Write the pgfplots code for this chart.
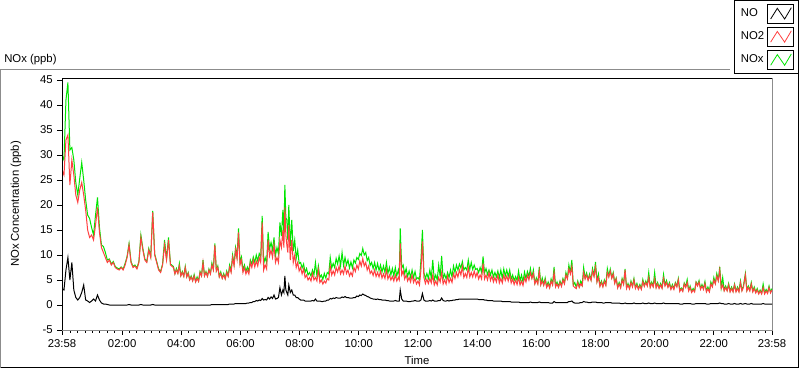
\documentclass[border=0pt]{standalone}
\usepackage{fontspec}
\setmainfont{Liberation Sans}
\usepackage{pgfplots}
\usepackage{pgfplotstable}
\pgfplotsset{compat=1.18}
\definecolor{noxgreen}{RGB}{0,230,0}
\definecolor{notwored}{RGB}{255,64,64}
\definecolor{framegray}{RGB}{140,140,140}

\pgfplotstableread{
t NO NO2 NOx
0 3.3 27 30
4 3 26 29
8 7 33 41
12 9.5 34 44.5
16 5 24 31
20 8.5 29 31.5
24 3 26 29
28 1.5 22 24.5
32 1 20.5 22
36 1.5 23 25.3
40 2.5 24.5 28.5
44 4 22 25
48 1 19 21
52 0.8 15 18
56 0.5 13.5 17.3
60 0.8 14 15.5
64 1.2 13 14
68 0.8 16 18
72 2 19.5 21.5
76 1 14.5 15.5
80 0.4 11.5 12
84 0.2 10.5 11.7
88 0.2 9.5 10.5
92 0.1 8.5 9
96 0 9 9.2
100 0 8 8.2
104 0 8.5 8.7
108 0 7.5 7.7
112 0 7.2 7.4
116 0 7 7.2
120 0 7.5 7.6
124 0 7 7.2
128 0 8 8.3
132 0 9.5 9.7
136 0.1 12 12.3
140 0 8.5 8.7
144 0 7.5 7.7
148 0 7.8 8
152 0 7.2 7.4
156 0 8.5 8.7
160 0.1 13.5 14
164 0 11 11.3
168 0 9 9.2
172 0 8.5 8.7
176 0 11 11.3
180 0 9.5 9.7
184 0.1 18.5 18.8
188 0 10 10.2
192 0 8.5 8.7
196 0 7 7.2
200 0 6.5 6.7
204 0 8 8.2
208 0 12 13
212 0 9 9.2
216 0 13 13.5
220 0 8 8.2
226 0 7.5 7.7
229 0 6.2 6.3
232 0 7 7.3
235 0 6.3 6.4
238 0 7.8 8.3
241 0 5.8 5.9
244 0 6.5 6.7
247 0 5.7 5.8
250 0 7.5 7.7
253 0 5.6 5.7
256 0 6.3 6.5
259 0 5 5.1
262 0 5.6 5.8
265 0 4.8 4.9
268 0 5.8 6.1
271 0 4.6 4.7
274 0 5.3 5.6
277 0 4.7 4.8
280 0 6.5 6.7
283 0 5.8 5.9
286 0 8.5 9
289 0 5.8 5.9
292 0 6.5 6.7
295 0 5.7 5.8
298 0 7 7.2
301 0 6.2 6.3
304 0.1 8 8.4
307 0.1 7 7.2
310 0.1 12 12.3
313 0.1 6.8 6.9
316 0.1 7.5 7.8
319 0.1 5.6 5.7
322 0.1 6.3 6.6
325 0.1 5.3 5.4
328 0.1 6 6.3
331 0.1 5.2 5.3
334 0.1 6.5 6.8
337 0.1 5.7 5.9
340 0.2 7.5 8
343 0.2 6.5 6.9
346 0.2 9.5 10
349 0.2 7.8 8.2
352 0.3 11 11.5
355 0.3 9.2 9.7
358 0.3 14.5 15.3
361 0.3 8 8.5
364 0.3 9 9.6
367 0.3 6.5 7
370 0.3 7.5 8
373 0.3 6.2 6.7
376 0.4 7 7.6
379 0.4 6.2 6.8
382 0.5 8.5 9
385 0.5 7.5 8.2
388 0.7 9 9.6
391 0.7 7.6 8.5
394 0.9 8.8 10
397 0.8 7.8 8.8
400 1 9.5 10.3
403 0.9 8.5 9.6
406 1.3 16.5 17.8
409 1 7 8.2
412 1.1 8 9.5
415 1 7.2 8.4
418 1.5 13 14.6
421 1.2 9.8 11.2
424 1.6 11 12.5
427 1.3 9.5 11
430 2 12 13.5
433 1.2 8.5 9.9
436 1.3 9.5 11.5
439 1.5 8.5 10.2
442 3.5 13 16.5
445 2 11.5 13.8
448 3 15 19
450 2.5 11.5 14.2
452 5.8 19.5 24
454 3 14 17.5
456 2.5 12 17
458 2 10.5 13
460 4 16 20
463 2.5 9 11.8
466 3 13 17
469 2 8.5 10.8
472 2 10 13
475 1.5 7.5 9.3
478 1.5 8.5 11
481 1.2 6.8 8.3
484 1 7.5 8.5
487 1 6.2 7.4
490 1 7.2 8.2
493 0.8 5.5 6.5
496 0.8 6 7.3
499 0.8 5 6
502 0.8 5.5 6.5
505 0.8 4.8 5.8
508 0.9 6.3 7
511 0.8 5 6
514 1.2 5.5 8.5
517 0.8 4.8 5.8
520 0.8 7 7.8
523 0.8 4.5 5.5
526 0.7 5 6
529 0.7 4.2 5.1
532 0.8 4.8 6.3
535 0.8 4.4 5.4
538 1 5.3 6.5
541 1 5 6.2
544 1.3 7.8 9.5
547 1.2 6 7.4
550 1.4 6.8 8.3
553 1.3 6 7.5
556 1.5 7.5 9.3
559 1.4 6.6 8.2
562 1.4 7.8 9.8
565 1.4 6.2 7.8
568 1.6 7 10.5
571 1.5 6.2 7.9
574 1.7 7.8 9.5
577 1.5 6.3 8
580 1.5 7 9
583 1.4 5.8 7.4
586 1.4 6.5 8.6
589 1.4 5.8 7.4
592 1.5 7.5 9
595 1.5 6.7 8.4
598 1.8 8 9.5
601 1.7 7.2 9.1
604 2 8.8 10.3
607 1.9 7.8 9.9
610 2.2 9.3 11.3
613 2 7.8 10
616 1.9 8.5 10.5
619 1.7 7 8.9
622 1.6 7.8 9.5
625 1.4 6.3 7.9
628 1.3 6.8 8.5
631 1.2 5.9 7.3
634 1.2 7 8.5
637 1.1 5.7 7
640 1.2 6.5 8.3
643 1.1 5.6 6.9
646 1.1 6.8 8
649 1 5.4 6.6
652 1 6.2 7.8
655 1 5.3 6.5
658 0.9 7 8.5
661 0.9 5.2 6.3
664 0.8 6 7.5
667 0.8 5 6
670 0.8 5.7 7.3
673 0.8 4.8 5.8
676 0.9 6 7.5
679 0.8 4.8 5.8
682 0.8 5.5 7
684 0.8 5 6
686 3 12.3 15.3
689 1.2 6 7.4
692 0.8 6.8 8
695 0.8 5.2 6.2
698 0.8 6 7.3
701 0.7 4.8 5.7
704 0.7 5.5 6.8
707 0.7 4.6 5.5
710 0.8 6 7
713 0.8 4.5 5.5
716 0.9 5.3 6.7
719 0.8 4.2 5.2
722 0.8 4.8 5.5
725 0.8 4 5
728 1 7 9
731 2.3 12.7 15
734 1 5.5 6.5
737 0.8 4.3 5.3
740 0.8 5.2 6.3
743 0.8 4.3 5.3
746 0.9 5.3 7
749 0.8 4.4 5.4
752 1 6 9
755 0.8 4 5
758 0.8 4.8 6
761 0.8 4 5
764 0.9 5.5 8
767 0.9 4.6 5.7
770 1.4 6.5 9.8
773 0.9 4.2 5.3
776 0.8 5 6.2
779 0.8 4.2 5.2
782 0.9 5.8 6.5
785 0.8 4.5 5.5
788 0.9 5.3 7
791 0.9 4.5 5.6
794 1 6.3 7.8
797 1 5.3 6.5
800 1.1 6.5 8
803 1.1 5.6 7
806 1.2 7 8.2
809 1.2 6 7.4
812 1.2 7.7 8.7
815 1.2 5.5 7
818 1.2 6.3 7.5
821 1.2 5.5 7
824 1.2 7.5 9
827 1.2 5.6 7.1
830 1.2 6.5 8.5
833 1.2 5.6 7.1
836 1.2 6.8 8
839 1.2 5.6 7.1
842 1.2 6.5 7.3
845 1.1 5.2 6.5
848 1.1 6 7.5
851 1.1 5.2 6.5
854 1.1 8.3 9.7
857 1 5.2 6.4
860 1 6 7.3
863 0.9 5 6.1
866 0.9 6.5 7
869 0.9 4.9 6
872 0.9 5.8 7
875 0.8 4.6 5.6
878 0.8 5.5 6.5
881 0.8 4.6 5.6
884 0.8 6 6.8
887 0.8 4.4 5.4
890 0.8 5.3 7
893 0.7 4.4 5.3
896 0.7 6 7.2
899 0.7 4.9 5.8
902 0.7 5.8 7
905 0.7 4.8 5.7
908 0.7 6 7
911 0.6 4.4 5.2
914 0.6 5.2 6
917 0.6 4.1 4.9
920 0.6 5 5.7
923 0.6 4.1 4.9
926 0.6 5.5 6.8
929 0.5 4 4.8
932 0.5 4.8 6
935 0.5 3.9 4.6
938 0.5 5.5 6.6
941 0.5 4.6 5.3
944 0.5 6 6.7
947 0.5 5 5.7
950 0.6 6.5 7.3
953 0.5 5.3 5.5
956 0.5 6.3 7.0
959 0.5 4.2 4.4
962 0.5 5 5.4
965 0.5 4.2 4.4
968 0.6 6.8 7.6
971 0.5 4 4.2
974 0.5 4.8 5.4
977 0.5 3.9 4.1
980 0.5 5 5.4
983 0.5 3.5 3.7
986 0.5 4.2 4.6
989 0.4 3.4 3.6
992 0.4 4.8 5.2
995 0.4 4 4.2
998 0.7 6.5 7.6
1001 0.5 3.6 3.8
1004 0.5 4.2 4.6
1007 0.5 3.5 3.7
1010 0.5 4.5 4.8
1013 0.5 3.7 3.9
1016 0.5 5 5.3
1019 0.5 4.2 4.4
1022 0.5 6 6.5
1025 0.5 5.2 5.4
1028 0.7 7.2 8
1031 0.7 6.2 6.5
1034 0.8 7.7 9
1037 0.5 3.8 4
1040 0.4 3.5 4.5
1043 0.4 3.3 3.5
1046 0.4 4.5 4.8
1049 0.4 3.5 3.7
1052 0.5 4.2 4.8
1055 0.5 3.8 4
1058 0.7 6.5 7.5
1061 0.6 5.2 5.4
1064 0.6 6 6.4
1067 0.5 4.9 5.1
1070 0.5 5.8 6.2
1073 0.5 4.9 5.1
1076 0.6 6.8 7.3
1079 0.6 5.7 5.9
1082 0.6 7.5 8.6
1085 0.5 4.6 4.8
1088 0.5 5.5 6.2
1091 0.5 3.7 3.9
1094 0.5 4.5 4.8
1097 0.4 3.6 3.8
1100 0.4 4.7 5
1103 0.5 3.9 4.1
1106 0.5 6.5 7.3
1109 0.5 5.6 5.8
1112 0.5 6.8 7.2
1115 0.4 5.3 5.5
1118 0.4 6.2 6.5
1121 0.4 4.3 4.5
1124 0.4 5.2 5.4
1127 0.4 3.4 3.6
1130 0.4 4.2 4.5
1133 0.3 3.4 3.6
1136 0.3 5 5.3
1139 0.3 4.1 4.3
1142 0.4 7 7.2
1145 0.3 3.3 3.5
1148 0.3 4 4.3
1151 0.3 3.2 3.4
1154 0.3 4.5 4.8
1157 0.3 3.6 3.8
1160 0.4 5 5.3
1163 0.3 3.3 3.5
1166 0.3 4 4.3
1169 0.3 3.1 3.3
1172 0.3 3.8 4.1
1175 0.3 3.1 3.3
1178 0.4 4.7 5.1
1181 0.3 3.7 3.9
1184 0.3 4.5 4.8
1187 0.3 3.8 4
1190 0.4 5.5 6.5
1193 0.3 3.5 3.7
1196 0.3 4.3 4.6
1199 0.3 3.6 3.8
1202 0.4 5.2 6.5
1205 0.3 3.4 3.6
1208 0.3 4.2 4.5
1211 0.3 3.3 3.5
1214 0.3 4 4.3
1217 0.3 3.3 3.5
1220 0.4 5.3 6.1
1223 0.3 3.8 4
1226 0.3 4.5 4.9
1229 0.3 3.5 3.7
1232 0.3 4.2 4.5
1235 0.3 3.1 3.3
1238 0.3 3.8 4.1
1241 0.3 3.1 3.3
1244 0.3 4.3 4.5
1247 0.3 3.6 3.8
1250 0.3 5 5.3
1253 0.2 2.7 2.9
1256 0.2 3.2 3.4
1259 0.2 2.7 2.9
1262 0.3 4.2 4.4
1265 0.3 3.5 3.7
1268 0.3 4.5 5.1
1271 0.3 2.8 3
1274 0.3 3.5 3.8
1277 0.2 2.5 2.7
1280 0.2 3 3.3
1283 0.2 2.6 2.8
1286 0.3 4.5 4.6
1289 0.3 3.8 4
1292 0.3 4.6 4.9
1295 0.3 3.1 3.3
1298 0.3 3.8 4.1
1301 0.3 3.1 3.3
1304 0.3 4.3 4.7
1307 0.2 2.6 2.8
1310 0.2 3.2 3.6
1313 0.2 2.6 2.8
1316 0.3 4.2 4.6
1319 0.3 3.6 3.8
1322 0.3 5 5.5
1325 0.3 4.2 4.4
1328 0.3 5.8 6.3
1331 0.3 4.8 5
1334 0.4 7 7.6
1337 0.3 3.3 3.5
1340 0.3 4 5.5
1343 0.2 2.8 3
1346 0.2 3.5 3.8
1349 0.2 2.8 3
1352 0.3 4 4.3
1355 0.2 2.6 2.8
1358 0.2 3.3 3.6
1361 0.2 2.6 2.8
1364 0.3 4 4.2
1367 0.2 2.6 2.8
1370 0.2 3.3 3.6
1373 0.2 2.6 2.8
1376 0.3 4.5 4.8
1379 0.2 2.8 3
1382 0.2 3.5 3.8
1386 0.3 6 6.3
1389 0.2 2.8 3
1392 0.2 3.5 3.8
1395 0.2 2.8 3
1398 0.3 4.2 4.5
1401 0.2 2.6 2.8
1404 0.2 3.3 3.6
1407 0.2 2.4 2.6
1410 0.2 3 3.3
1413 0.2 2.2 2.4
1416 0.2 2.8 3
1419 0.2 2.2 2.4
1422 0.3 3.5 4.2
1425 0.2 2.2 2.4
1428 0.2 2.8 3.1
1431 0.2 2.3 2.5
1434 0.2 3.5 3.8
1437 0.2 2.4 2.6
1440 0.2 3 3.3
}\datatab

\begin{document}
\begin{tikzpicture}[font=\fontsize{8.5}{10}\selectfont]
\begin{scope}[x=0.75pt,y=-0.75pt,yshift=276.75pt]
\useasboundingbox (0,0) rectangle (800,369);
\fill[white] (0,0) rectangle (800,369);
\draw[framegray,line width=0.75pt] (0.5,367.5) -- (0.5,69.5) -- (730,69.5);
\draw[black,line width=0.75pt] (0.5,367.5) -- (798.5,367.5) -- (798.5,72);
\node[anchor=base west,inner sep=0pt] at (4,62) {NOx (ppb)};
\end{scope}
\begin{axis}[
  at={(46.5pt,29.25pt)}, anchor=south west,
  scale only axis, width=532.5pt, height=189pt,
  xmin=0, xmax=1440, ymin=-5, ymax=45.4,
  xtick={0,2,122,242,362,482,602,722,842,962,1082,1202,1322,1440},
  xticklabels={23:58,,02:00,04:00,06:00,08:00,10:00,12:00,14:00,16:00,18:00,20:00,22:00,23:58},
  minor xtick={17,32,...,1427},
  ytick={-5,0,...,45},
  yticklabels={-5,0,5,10,15,20,25,30,35,40,45},
  tick align=outside, xtick pos=bottom, ytick pos=left,
  major tick length=3.5pt, minor tick length=2.2pt,
  tick style={black, line width=0.75pt},
  axis line style={framegray, line width=0.75pt},
  ticklabel style={font=\fontsize{8.5}{10}\selectfont},
  label style={font=\fontsize{8.5}{10}\selectfont},
  xlabel={Time}, ylabel={NOx Concentration (ppb)},
  xlabel style={at={(axis description cs:0.5,-0.119)}, anchor=center},
  ylabel style={at={(axis description cs:-0.0648,0.5)}, anchor=center},
  legend plot pos=right, legend cell align=left,
  legend style={at={(axis description cs:1.038,1.3095)}, anchor=north east,
    draw=black, line width=0.75pt, fill=white, font=\fontsize{8.5}{10}\selectfont,
    inner xsep=3pt, inner ysep=2.5pt, row sep=2.6pt},
  legend image code/.code={
    \draw[black,line width=0.75pt,fill=white] (0pt,-7pt) rectangle (20pt,7pt);
    \draw[#1,line width=0.6pt] (2.5pt,-4pt) -- (7.5pt,4pt) -- (13pt,-4pt) -- (18pt,4.5pt);
  },
]
\addlegendimage{black}\addlegendentry{NO}
\addlegendimage{notwored}\addlegendentry{NO2}
\addlegendimage{noxgreen}\addlegendentry{NOx}
\addplot[noxgreen, line width=0.75pt, forget plot] table[x=t,y=NOx]{\datatab};
\addplot[notwored, line width=0.75pt, forget plot] table[x=t,y=NO2]{\datatab};
\addplot[black, line width=0.75pt, forget plot] table[x=t,y=NO]{\datatab};
\draw[black,line width=0.75pt] (rel axis cs:0,0) -- (rel axis cs:0,1) -- (rel axis cs:1,1);
\end{axis}
\end{tikzpicture}
\end{document}
